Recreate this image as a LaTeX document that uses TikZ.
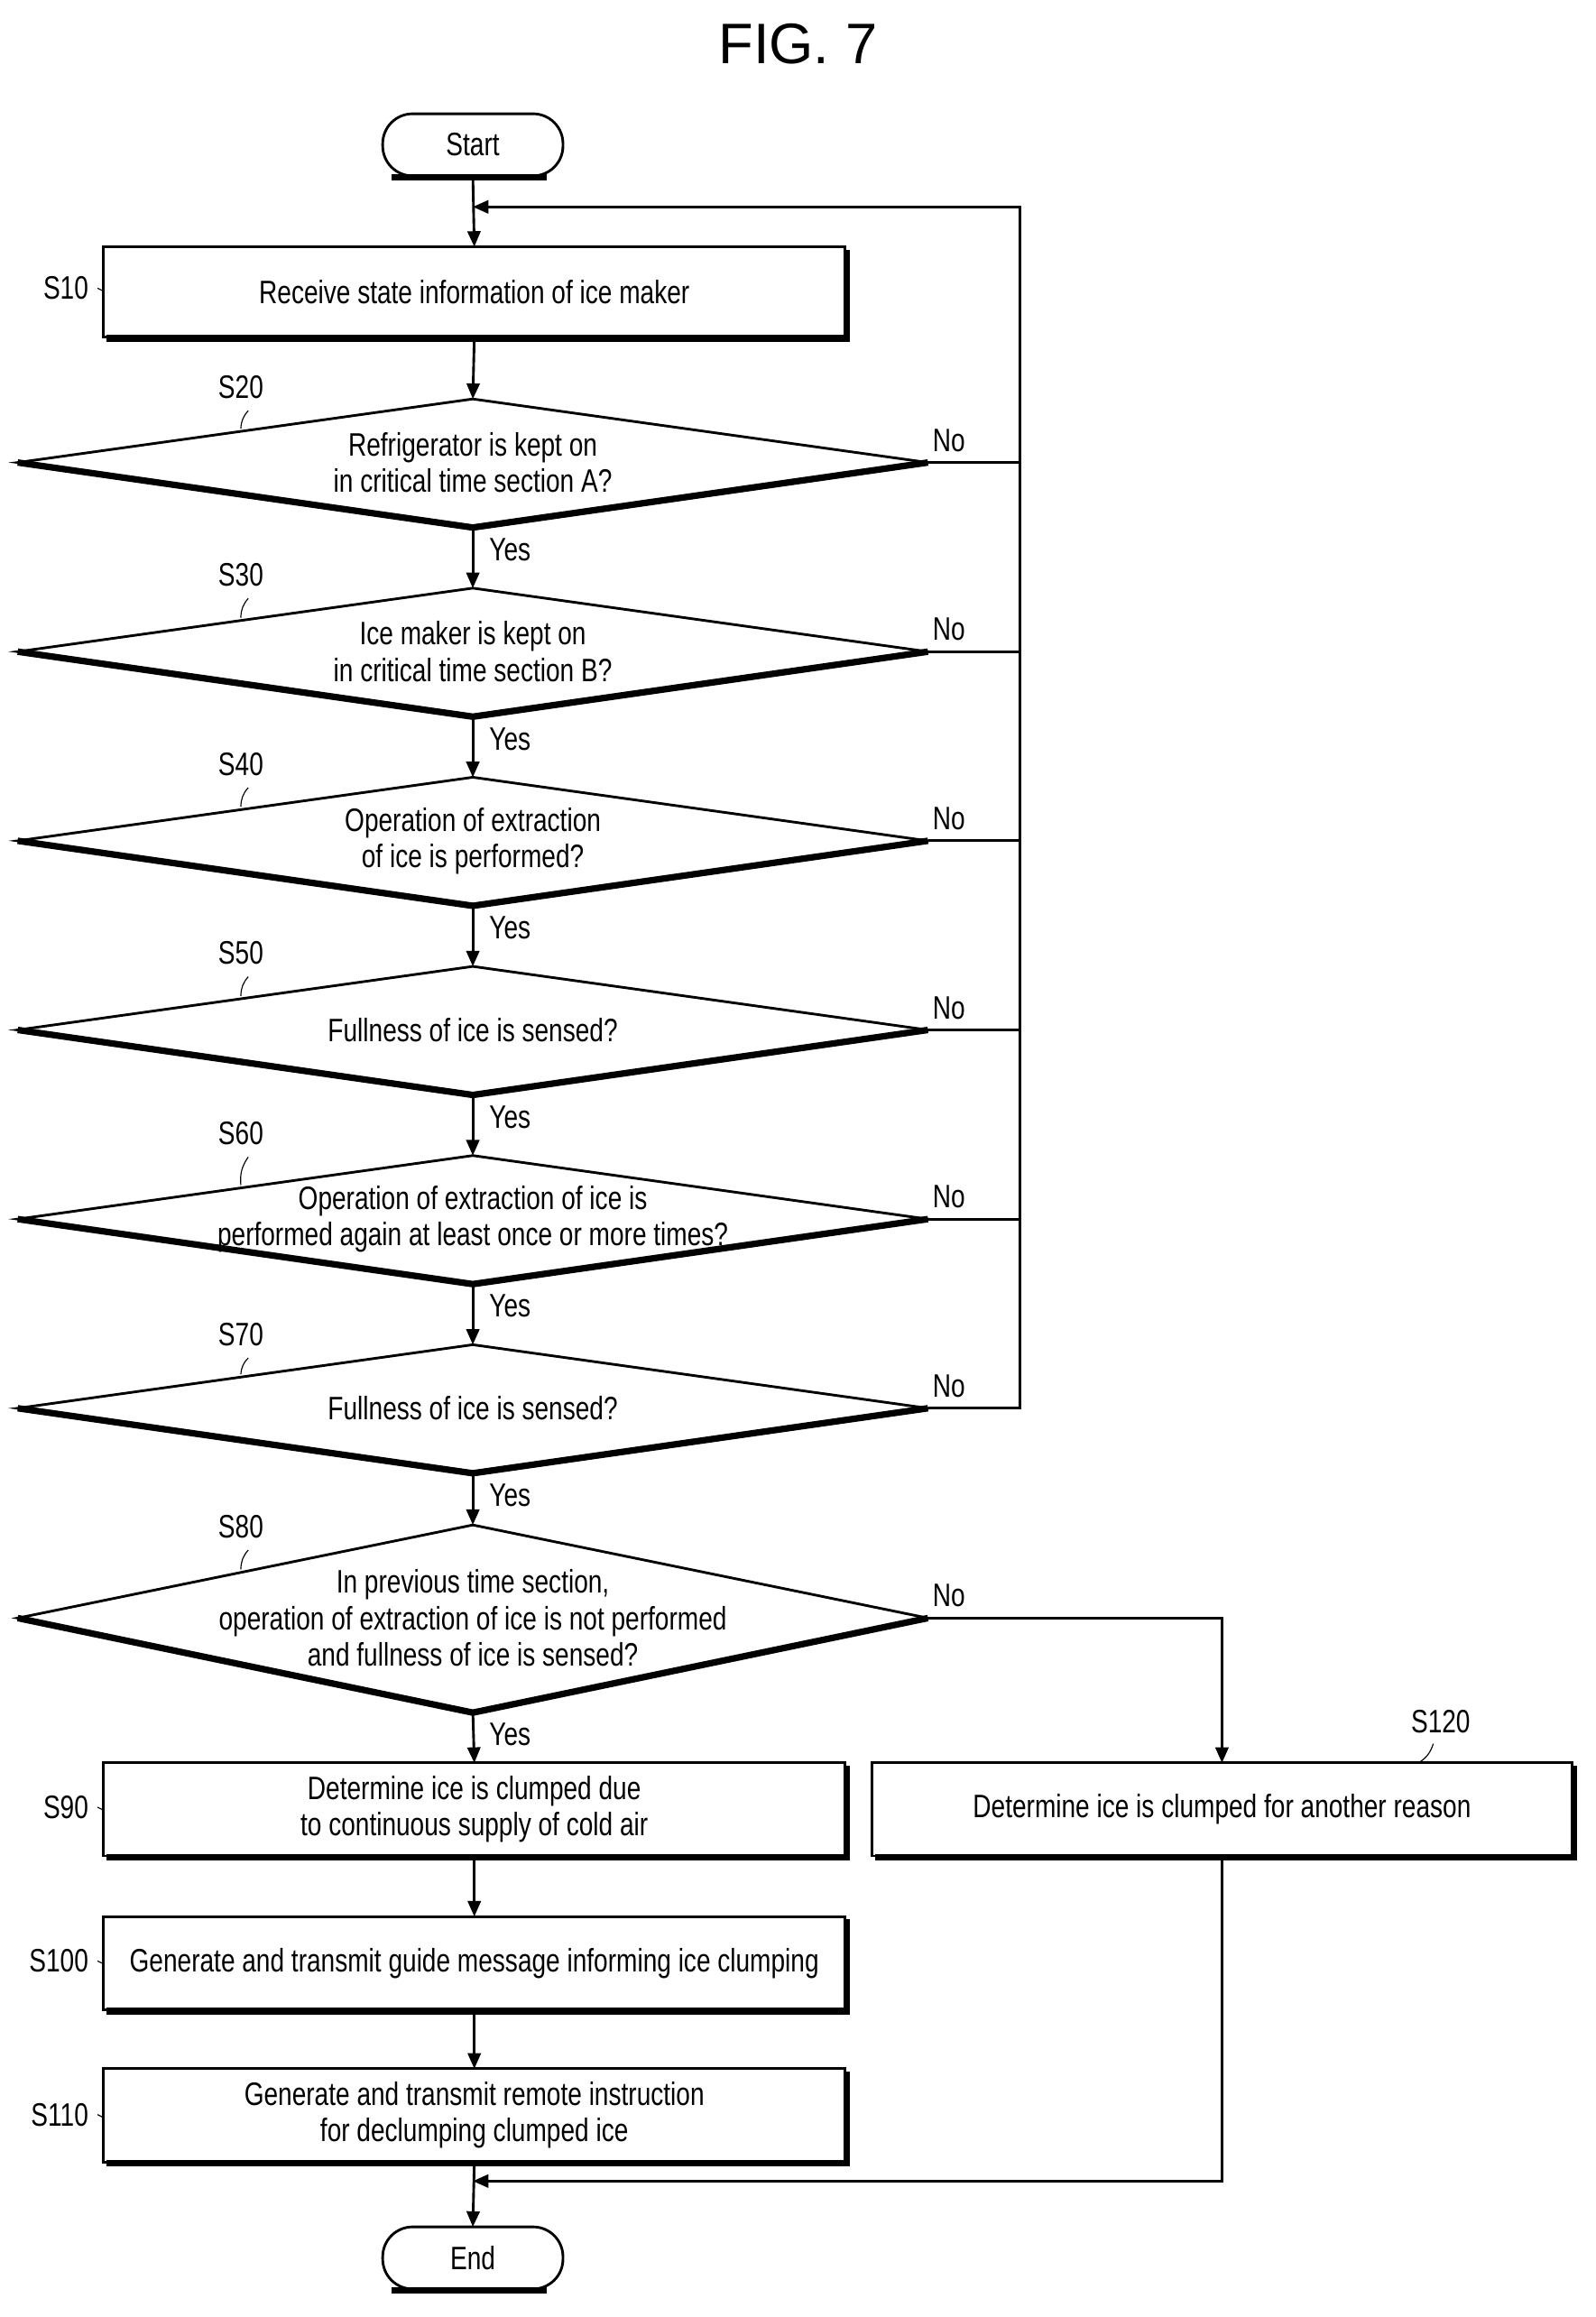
\documentclass[tikz,border=0pt]{standalone}
\usepackage{fontspec}
\setmainfont{Liberation Sans}[FakeStretch=0.78]
\newfontfamily\figfont{Liberation Sans}
\usetikzlibrary{arrows.meta}
\begin{document}
\begin{tikzpicture}[x=0.02cm,y=-0.02cm,
 every node/.style={font=\fontsize{12.5}{14}\selectfont},
 ln/.style={line width=1pt},
 arr/.style={ln,-{Triangle[length=6pt,width=5pt]}},
 term/.style={ln,rounded corners=11.5pt}]
\useasboundingbox (0,0) rectangle (1080,1568);
\node at (540,30) {\figfont\fontsize{22}{24}\selectfont FIG. 7};
\newcommand\mybox[5]{%
 \draw[ln] (#2,#3) rectangle (#4,#5);
 \draw[line width=2.5pt] (#2+2,#5+1) -- (#4+1,#5+1) -- (#4+1,#3+2);
 \coordinate (#1) at ({(#2+#4)/2},{(#3+#5)/2});
 \coordinate (#1t) at ({(#2+#4)/2},#3);
 \coordinate (#1b) at ({(#2+#4)/2},#5);}
\newcommand\mydia[3]{%
 \draw[ln] (12,#2) -- (320,#2-#3) -- (628,#2) -- (320,#2+#3) -- cycle;
 \draw[line width=2.5pt] (12,#2) -- (320,#2+#3+1) -- (628,#2);
 \coordinate (#1) at (320,#2);
 \coordinate (#1t) at (320,#2-#3);
 \coordinate (#1b) at (320,#2+#3);
 \coordinate (#1r) at (628,#2);}
\draw[term] (259,77) rectangle (381,119);
\draw[line width=2.5pt] (265,120) -- (370,120);
\node (start) at (320,98) {Start};
\coordinate (startb) at (320,119);
\draw[term] (259,1507) rectangle (381,1549);
\draw[line width=2.5pt] (265,1550) -- (370,1550);
\node (end) at (320,1528) {End};
\coordinate (endt) at (320,1507);
\mybox{s10}{70}{167}{572}{228}
\node at (s10) {Receive state information of ice maker};
\mydia{s20}{313}{43}
\node[align=center] at (s20) {Refrigerator is kept on\\in critical time section A?};
\mydia{s30}{441}{43}
\node[align=center] at (s30) {Ice maker is kept on\\in critical time section B?};
\mydia{s40}{569}{43}
\node[align=center] at (s40) {Operation of extraction\\of ice is performed?};
\mydia{s50}{697}{43}
\node at (s50) {Fullness of ice is sensed?};
\mydia{s60}{825}{43}
\node[align=center] at (s60) {Operation of extraction of ice is\\performed again at least once or more times?};
\mydia{s70}{953}{43}
\node at (s70) {Fullness of ice is sensed?};
\mydia{s80}{1095}{63}
\node[align=center] at (s80) {In previous time section,\\operation of extraction of ice is not performed\\and fullness of ice is sensed?};
\mybox{s90}{70}{1193}{572}{1256}
\node[align=center] at (s90) {Determine ice is clumped due\\to continuous supply of cold air};
\mybox{s120}{590}{1193}{1064}{1256}
\node at (s120) {Determine ice is clumped for another reason};
\mybox{s100}{70}{1297}{572}{1360}
\node at (s100) {Generate and transmit guide message informing ice clumping};
\mybox{s110}{70}{1400}{572}{1463}
\node[align=center] at (s110) {Generate and transmit remote instruction\\for declumping clumped ice};
\node[anchor=east] at (66,195) {S10};
\draw (66,195)--(70,197);
\node at (163,262) {S20};\draw (168,278) to[bend right=20] (163,290);
\node at (163,389) {S30};\draw (168,405) to[bend right=20] (163,418);
\node at (163,517) {S40};\draw (168,533) to[bend right=20] (163,546);
\node at (163,645) {S50};\draw (168,661) to[bend right=20] (163,674);
\node at (163,767) {S60};\draw (168,783) to[bend right=20] (163,802);
\node at (163,903) {S70};\draw (168,919) to[bend right=20] (163,930);
\node at (163,1033) {S80};\draw (168,1049) to[bend right=20] (163,1062);
\node[anchor=east] at (66,1223) {S90};\draw (66,1223)--(70,1225);
\node[anchor=east] at (66,1327) {S100};\draw (66,1327)--(70,1329);
\node[anchor=east] at (66,1431) {S110};\draw (66,1431)--(70,1433);
\node at (975,1165) {S120};\draw (970,1180) to[bend left=20] (960,1193);
\draw[arr] (startb) -- (s10t);
\draw[arr] (s10b) -- (s20t);
\draw[arr] (s20b) -- (s30t);
\draw[arr] (s30b) -- (s40t);
\draw[arr] (s40b) -- (s50t);
\draw[arr] (s50b) -- (s60t);
\draw[arr] (s60b) -- (s70t);
\draw[arr] (s70b) -- (s80t);
\draw[arr] (s80b) -- (s90t);
\draw[arr] (s90b) -- (s100t);
\draw[arr] (s100b) -- (s110t);
\draw[arr] (s110b) -- (endt);
\coordinate (loop) at (690,140);
\draw[arr] (s70r) -| (loop) -- (320,140);
\foreach \n in {s20,s30,s40,s50,s60} \draw[ln] (\n r) -- (690,0 |- \n r);
\draw[arr] (s80r) -| (s120t);
\draw[arr] (s120b) |- (320,1476);
\foreach \n in {s20,s30,s40,s50,s60,s70,s80} \node[anchor=west] at ([shift={(5,16)}]\n b) {Yes};
\foreach \n in {s20,s30,s40,s50,s60,s70,s80} \node[anchor=west] at ([shift={(-3,-15)}]\n r) {No};
\end{tikzpicture}
\end{document}
